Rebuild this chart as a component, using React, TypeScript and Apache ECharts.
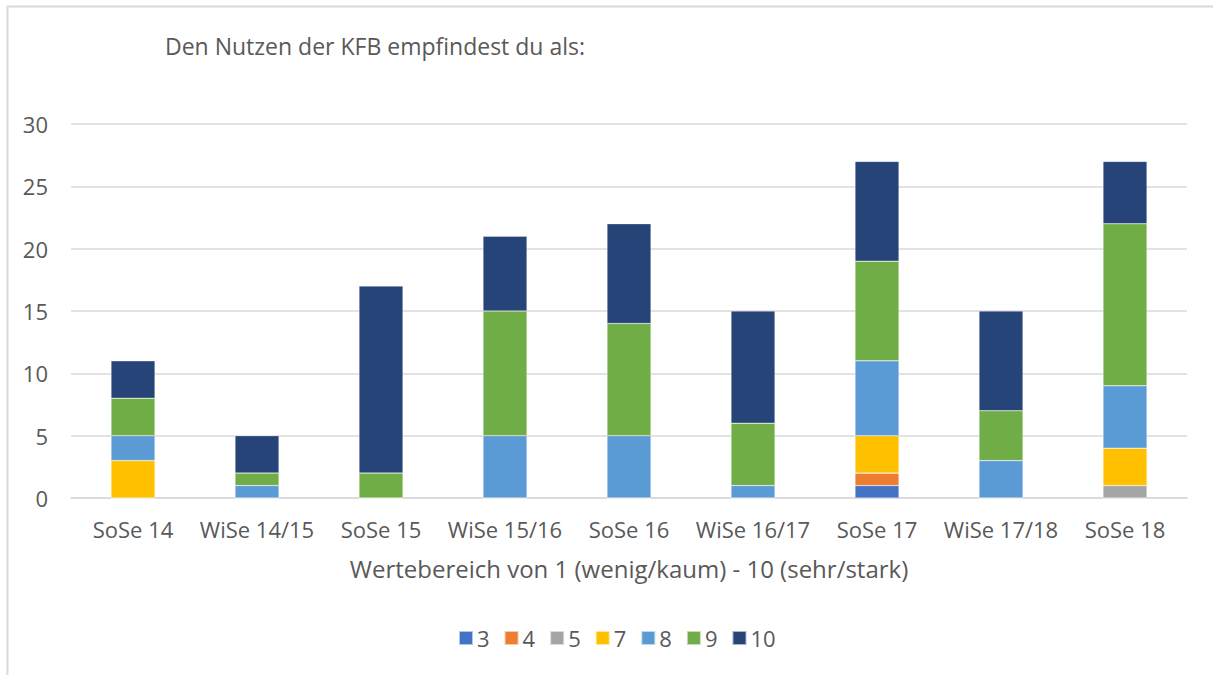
import React, { useEffect, useRef } from "react";
import * as echarts from "echarts";

const categories = ["SoSe 14", "WiSe 14/15", "SoSe 15", "WiSe 15/16", "SoSe 16", "WiSe 16/17", "SoSe 17", "WiSe 17/18", "SoSe 18"];
const seriesNames = ["3", "4", "5", "7", "8", "9", "10"];
const v3 = [0, 0, 0, 0, 0, 0, 1, 0, 0];
const v4 = [0, 0, 0, 0, 0, 0, 1, 0, 0];
const v5 = [0, 0, 0, 0, 0, 0, 0, 0, 1];
const v7 = [3, 0, 0, 0, 0, 0, 3, 0, 3];
const v8 = [2, 1, 0, 5, 5, 1, 6, 3, 5];
const v9 = [3, 1, 2, 10, 9, 5, 8, 4, 13];
const v10 = [3, 3, 15, 6, 8, 9, 8, 8, 5];
const values = [v3, v4, v5, v7, v8, v9, v10];
const colors = ["#4472C4", "#ED7D31", "#A5A5A5", "#FFC000", "#5B9BD5", "#70AD47", "#264478"];

const FONT = "'Open Sans', 'Noto Sans', sans-serif";
const TXT = "#595959";

export default function App() {
  const ref = useRef<HTMLDivElement>(null);
  useEffect(() => {
    if (!ref.current) return;
    const chart = echarts.init(ref.current, undefined, { renderer: "svg" });
    chart.setOption({
      animation: false,
      backgroundColor: "#ffffff",
      textStyle: { fontFamily: FONT },
      title: {
        text: "Den Nutzen der KFB empfindest du als:",
        left: 160,
        top: 29,
        textStyle: { fontFamily: FONT, fontSize: 23, fontWeight: "normal", color: TXT },
      },
      graphic: [
        {
          type: "polyline",
          shape: { points: [[7.5, 675], [7.5, 6.5], [1213, 6.5]] },
          style: { stroke: "#D9D9D9", lineWidth: 2, fill: "none" },
          silent: true,
        },
      ],
      legend: {
        data: seriesNames,
        left: 453,
        top: 622,
        itemWidth: 14,
        itemHeight: 14,
        itemGap: 14,
        icon: "rect",
        textStyle: { fontFamily: FONT, fontSize: 22, color: TXT, padding: [0, 0, 0, -1] },
      },
      grid: { left: 71, right: 26, top: 124, bottom: 177 },
      xAxis: {
        type: "category",
        data: categories,
        name: "Wertebereich von 1 (wenig/kaum) - 10 (sehr/stark)",
        nameLocation: "middle",
        nameGap: 58,
        nameTextStyle: { fontFamily: FONT, fontSize: 24, color: TXT },
        axisLine: { lineStyle: { color: "#D9D9D9", width: 1.5 } },
        axisTick: { show: false },
        axisLabel: { fontFamily: FONT, fontSize: 22, color: TXT, margin: 20, interval: 0 },
      },
      yAxis: {
        type: "value",
        min: 0,
        max: 30,
        interval: 5,
        axisLine: { show: false },
        axisTick: { show: false },
        axisLabel: { fontFamily: FONT, fontSize: 22, color: TXT, margin: 23 },
        splitLine: { lineStyle: { color: "#D9D9D9", width: 1.5 } },
      },
      series: seriesNames.map((n, i) => ({
        name: n,
        type: "bar",
        stack: "total",
        barWidth: 44,
        data: values[i],
        itemStyle: { color: colors[i], borderColor: "rgba(255,255,255,0.6)", borderWidth: 0.5 },
      })),
    });
    return () => chart.dispose();
  }, []);
  return <div ref={ref} style={{ position: "fixed", left: 0, top: 0, width: 1213, height: 675 }} />;
}
